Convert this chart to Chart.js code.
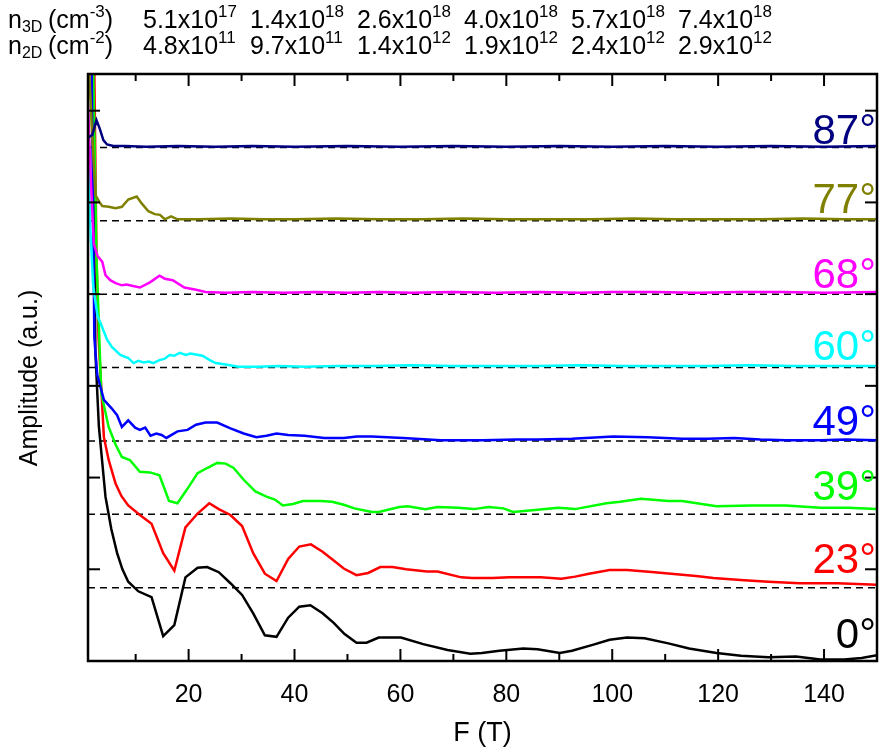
<!DOCTYPE html>
<html>
<head>
<meta charset="utf-8">
<script src="https://cdn.jsdelivr.net/npm/chart.js@4.4.0/dist/chart.umd.min.js"></script>
<style>
  html, body { margin: 0; padding: 0; background: #fff; }
</style>
</head>
<body>
<canvas id="grafico" width="888" height="756"></canvas>
<script>
// Densidades de portadores (cabeçalho)
const n3dMant = ["5.1", "1.4", "2.6", "4.0", "5.7", "7.4"];
const n3dExp  = ["17", "18", "18", "18", "18", "18"];
const n2dMant = ["4.8", "9.7", "1.4", "1.9", "2.4", "2.9"];
const n2dExp  = ["11", "11", "12", "12", "12", "12"];

// Ângulos e cores de cada espectro
const angulos = ["0°", "23°", "39°", "49°", "60°", "68°", "77°", "87°"];
const cores = ["#000000", "#ff0000", "#00ff00", "#0000ff", "#00ffff", "#ff00ff", "#808000", "#000080"];
const labelY = [0.18, 1.2, 2.19, 3.08, 4.1, 5.08, 6.1, 7.04];

// Linhas de base tracejadas e marcas do eixo y
const baselines = [1, 2, 3, 4, 5, 6, 7];
const yTicks = [1.25, 2.5, 3.75, 5, 6.25, 7.5];

// Espectros FFT: [F (T), amplitude deslocada]
const s0 = [[1.0,16],[1.8,8.5],[2.4,4.2],[3.05,3.2],[4.3,2.24],[5.4,1.8],[6.5,1.47],[7.5,1.25],[8.6,1.08],
  [10.5,0.95],[13.0,0.87],[15.2,0.34],[17.3,0.49],[19.4,1.14],[21.7,1.27],[23.5,1.28],[25.7,1.21],[27.9,1.06],
  [30.1,0.90],[32.2,0.65],[34.4,0.35],[36.6,0.33],[38.8,0.59],[40.9,0.74],[43.0,0.76],[45.3,0.65],[47.4,0.52],
  [49.4,0.37],[51.7,0.25],[53.6,0.25],[55.9,0.32],[60.1,0.32],[64.3,0.23],[68.9,0.15],[73.2,0.10],[75.4,0.11],
  [78.7,0.14],[83.2,0.17],[85.9,0.16],[90.1,0.11],[92.4,0.14],[96.3,0.22],[99.5,0.29],[102.8,0.32],[106.1,0.31],
  [110.6,0.24],[114.5,0.17],[119.7,0.11],[124.3,0.07],[129.5,0.05],[134.7,0.06],[139.3,0.02],[143.8,0.02],
  [147.1,0.04],[150,0.08]];
const s23 = [[1.0,16],[2.2,8.0],[2.6,5.5],[3.0,4.4],[4.0,3.05],[4.9,2.74],[6.2,2.42],[7.3,2.25],[8.6,2.12],
  [10.8,1.99],[13.0,1.87],[15.2,1.47],[17.3,1.23],[19.4,1.82],[21.7,2.01],[23.9,2.15],[25.7,2.07],[27.9,1.99],
  [30.1,1.84],[32.2,1.47],[34.4,1.19],[36.6,1.09],[38.8,1.39],[40.9,1.56],[43.1,1.59],[45.3,1.49],[47.4,1.37],
  [49.3,1.26],[51.7,1.17],[53.9,1.20],[56.2,1.28],[58.5,1.28],[61.1,1.25],[65.0,1.22],[67.0,1.22],[71.5,1.14],
  [73.5,1.13],[77.4,1.13],[80.6,1.14],[86.5,1.14],[90.4,1.12],[93.0,1.15],[95.6,1.19],[99.5,1.24],[102.8,1.24],
  [108.0,1.21],[115.8,1.16],[119.1,1.13],[124.9,1.10],[129.5,1.08],[135.4,1.06],[142.5,1.06],[150,1.04]];
const s39 = [[1.0,16],[2.0,8.0],[2.6,5.5],[3.5,3.65],[4.9,3.19],[5.5,3.08],[6.2,2.95],[7.4,2.78],[8.9,2.74],
  [10.8,2.58],[12.7,2.57],[14.5,2.53],[16.3,2.18],[17.9,2.15],[19.8,2.35],[21.7,2.56],[23.5,2.63],[25.4,2.70],
  [27.0,2.69],[28.5,2.63],[30.4,2.47],[32.6,2.31],[34.7,2.24],[36.3,2.20],[37.8,2.12],[39.7,2.14],[41.6,2.18],
  [45.0,2.18],[47.1,2.17],[49.3,2.13],[51.3,2.08],[54.6,2.03],[55.9,2.03],[59.8,2.10],[61.4,2.11],[64.7,2.07],
  [67.0,2.10],[70.9,2.09],[73.8,2.07],[76.7,2.10],[79.4,2.08],[81.3,2.03],[85.9,2.06],[89.8,2.09],[93.0,2.07],
  [98.9,2.15],[101.5,2.17],[105.4,2.21],[110.6,2.18],[113.2,2.18],[119.7,2.11],[126.3,2.12],[132.8,2.12],
  [139.3,2.09],[144.5,2.09],[150,2.07]];
const s49 = [[1.0,14],[1.7,8.0],[2.2,4.4],[2.75,3.9],[4.0,3.56],[5.5,3.44],[6.5,3.35],[7.4,3.19],[8.6,3.28],
  [9.9,3.18],[10.8,3.15],[11.8,3.18],[12.8,3.07],[13.9,3.10],[14.9,3.08],[15.8,3.04],[17.9,3.13],[19.8,3.15],
  [21.4,3.22],[23.2,3.25],[25.4,3.25],[27.9,3.17],[30.4,3.10],[32.8,3.05],[34.7,3.07],[36.6,3.10],[38.8,3.08],
  [41.9,3.07],[45.6,3.04],[49.3,3.04],[51.8,3.06],[54.6,3.06],[60.5,3.04],[67.6,3.01],[75.4,3.01],[81.9,3.02],
  [86.0,3.02],[92.4,3.03],[100.2,3.06],[106.7,3.05],[113.2,3.03],[118.0,3.03],[123.0,3.04],[128.0,3.02],
  [132.8,3.01],[139.3,3.01],[144.0,3.02],[150,3.01]];
const s60 = [[1.0,7.0],[1.5,5.8],[2.0,5.1],[2.8,4.7],[3.4,4.6],[4.6,4.38],[5.5,4.28],[7.1,4.17],[8.6,4.13],
  [9.6,4.06],[10.5,4.09],[11.5,4.07],[12.5,4.08],[13.3,4.06],[14.5,4.10],[15.5,4.12],[16.4,4.17],[17.3,4.16],
  [18.3,4.20],[19.5,4.17],[20.3,4.19],[21.1,4.18],[22.6,4.16],[24.0,4.10],[25.1,4.06],[27.0,4.04],[29.4,4.01],
  [33,4.01],[37,4.02],[42,4.01],[48,4.02],[55,4.02],[62,4.03],[70,4.02],[78,4.02],[86,4.02],[94,4.03],
  [102,4.02],[110,4.02],[118,4.02],[126,4.03],[134,4.02],[142,4.02],[150,4.02]];
const s68 = [[1.0,7.6],[1.5,6.6],[2.1,5.69],[2.8,5.52],[3.7,5.44],[4.3,5.26],[5.2,5.19],[6.2,5.15],[7.4,5.12],
  [8.3,5.13],[9.5,5.11],[10.8,5.09],[12.7,5.16],[14.5,5.25],[15.5,5.21],[17.0,5.19],[19.2,5.09],[21.4,5.06],
  [23.2,5.03],[27,5.02],[32,5.03],[38,5.02],[44,5.03],[50,5.02],[56,5.03],[62,5.02],[70,5.03],[78,5.02],
  [86,5.03],[94,5.02],[100,5.03],[108,5.03],[116,5.02],[124,5.03],[132,5.03],[140,5.02],[150,5.03]];
const s77 = [[1.0,8.4],[1.7,7.3],[2.4,6.35],[3.2,6.25],[3.7,6.20],[4.9,6.19],[6.2,6.17],[7.4,6.19],[8.6,6.29],
  [10.2,6.33],[11.1,6.24],[12.4,6.13],[13.6,6.09],[14.6,6.08],[15.5,6.02],[16.7,6.06],[17.9,6.02],[22,6.02],
  [28,6.03],[34,6.02],[40,6.02],[48,6.03],[56,6.02],[64,6.02],[72,6.03],[80,6.02],[88,6.02],[96,6.02],
  [104,6.03],[112,6.02],[120,6.02],[128,6.02],[136,6.03],[144,6.02],[150,6.02]];
const s87 = [[1.0,7.13],[1.8,7.17],[2.6,7.37],[3.2,7.26],[3.9,7.10],[4.6,7.04],[5.8,7.02],[8,7.02],[12,7.01],
  [18,7.02],[25,7.01],[32,7.02],[40,7.01],[50,7.02],[60,7.01],[70,7.02],[80,7.01],[90,7.02],[100,7.01],
  [110,7.02],[120,7.01],[130,7.02],[140,7.01],[150,7.02]];

const espectros = [s0, s23, s39, s49, s60, s68, s77, s87];

const fonte = '"Liberation Sans", Arial, sans-serif';

// Texto com sobrescrito / subscrito no canvas
function textoRico(ctx, x, yBase, partes) {
    partes.forEach(p => {
        let tam = 25, dy = 0;
        if (p.k === "sup") { tam = 17; dy = -11; }
        if (p.k === "sub") { tam = 16; dy = 4; }
        ctx.font = tam + "px " + fonte;
        ctx.fillText(p.t, x, yBase + dy);
        x += ctx.measureText(p.t).width;
    });
}

// Cabeçalho com n3D e n2D, e título do eixo y
const colX = [143, 250, 357, 464, 571, 678];
const cabecalhoPlugin = {
    id: "cabecalho",
    afterDraw(chart) {
        const ctx = chart.ctx;
        ctx.save();
        ctx.fillStyle = "#000";
        ctx.textAlign = "left";
        ctx.textBaseline = "alphabetic";
        const linhas = [
            { y: 28, sub: "3D", exp: "-3", mant: n3dMant, exps: n3dExp },
            { y: 54, sub: "2D", exp: "-2", mant: n2dMant, exps: n2dExp }
        ];
        linhas.forEach(l => {
            textoRico(ctx, 8, l.y, [{ t: "n" }, { t: l.sub, k: "sub" }]);
            textoRico(ctx, 48, l.y, [{ t: "(cm" }, { t: l.exp, k: "sup" }, { t: ")" }]);
            l.mant.forEach((m, i) => {
                textoRico(ctx, colX[i], l.y, [{ t: m + "x10" }, { t: l.exps[i], k: "sup" }]);
            });
        });

        // título do eixo y
        ctx.translate(30, 378);
        ctx.rotate(-Math.PI / 2);
        ctx.font = "25px " + fonte;
        ctx.textAlign = "center";
        ctx.textBaseline = "middle";
        ctx.fillText("Amplitude (a.u.)", 0, 0);
        ctx.restore();
    }
};

// Moldura, marcas internas e rótulos de ângulo
const molduraPlugin = {
    id: "moldura",
    afterDatasetsDraw(chart) {
        const { ctx, chartArea: a, scales: { x, y } } = chart;
        ctx.save();
        ctx.strokeStyle = "#000";
        ctx.lineWidth = 2;
        const linha = (x1, y1, x2, y2) => { ctx.beginPath(); ctx.moveTo(x1, y1); ctx.lineTo(x2, y2); ctx.stroke(); };
        x.ticks.forEach(t => {
            if (t.value <= x.min || t.value >= x.max) return;
            const px = x.getPixelForValue(t.value);
            const len = t.value % 20 === 0 ? 12 : 7;
            linha(px, a.bottom, px, a.bottom - len);
            linha(px, a.top, px, a.top + len);
        });
        yTicks.forEach(v => {
            const py = y.getPixelForValue(v);
            linha(a.left, py, a.left + 12, py);
            linha(a.right, py, a.right - 12, py);
        });
        ctx.lineWidth = 2.5;
        ctx.strokeRect(a.left, a.top, a.right - a.left, a.bottom - a.top);

        ctx.font = "42px " + fonte;
        ctx.textAlign = "right";
        ctx.textBaseline = "alphabetic";
        angulos.forEach((s, i) => {
            ctx.fillStyle = cores[i];
            ctx.fillText(s, a.right - 1, y.getPixelForValue(labelY[i]));
        });
        ctx.restore();
    }
};

// Ângulos maiores ficam por cima (order menor = desenhado por último)
const datasets = espectros.map((s, i) => ({
    label: angulos[i],
    data: s.map(p => ({ x: p[0], y: p[1] })),
    borderColor: cores[i],
    borderWidth: 2.5,
    pointRadius: 0,
    tension: 0,
    fill: false,
    order: espectros.length - i
}));
baselines.forEach(b => {
    datasets.push({
        label: "base " + b,
        data: [{ x: 1, y: b }, { x: 150, y: b }],
        borderColor: "#000",
        borderWidth: 1.5,
        borderDash: [7, 5],
        pointRadius: 0,
        fill: false,
        order: 20
    });
});

new Chart(document.getElementById("grafico").getContext("2d"), {
    type: "line",
    data: { datasets },
    options: {
        responsive: false,
        animation: false,
        events: [],
        layout: { padding: { top: 74, right: 2, left: 0, bottom: 0 } },
        plugins: { legend: { display: false }, tooltip: { enabled: false } },
        scales: {
            x: {
                type: "linear",
                min: 1,
                max: 150,
                grid: { display: false },
                border: { display: false },
                ticks: {
                    stepSize: 10,
                    autoSkip: false,
                    maxRotation: 0,
                    padding: 11,
                    color: "#000",
                    font: { family: fonte, size: 25 },
                    callback: v => (v % 20 === 0 ? v : "")
                },
                title: {
                    display: true,
                    text: "F (T)",
                    color: "#000",
                    font: { family: fonte, size: 27 },
                    padding: { top: 0, bottom: 6 }
                },
                afterFit: s => { s.height = 95; }
            },
            y: {
                min: 0,
                max: 8,
                grid: { display: false },
                border: { display: false },
                ticks: { display: false },
                title: { display: false },
                afterFit: s => { s.width = 88; }
            }
        }
    },
    plugins: [molduraPlugin, cabecalhoPlugin]
});
</script>
</body>
</html>
